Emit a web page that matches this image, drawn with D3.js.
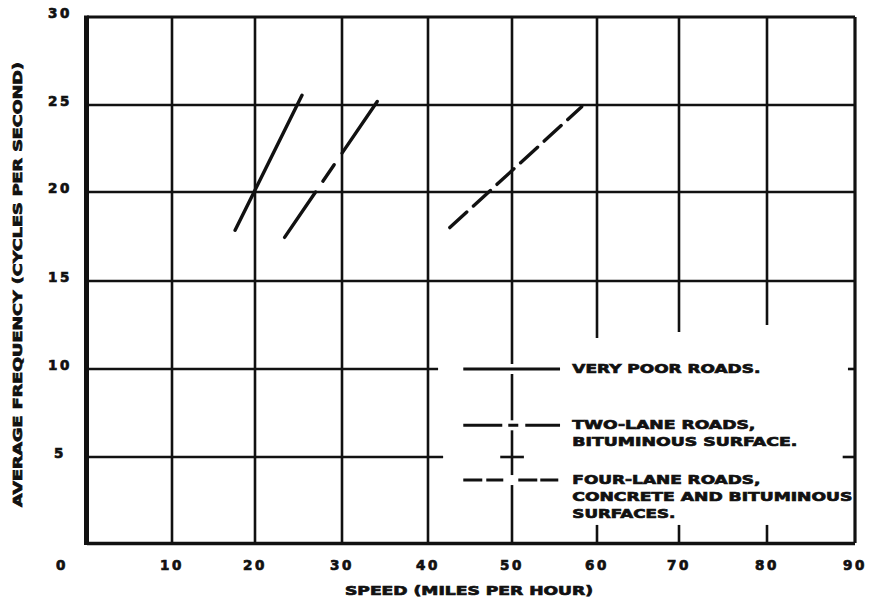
<!DOCTYPE html>
<html><head><meta charset="utf-8">
<script src="https://cdn.jsdelivr.net/npm/d3@7"></script>
<style>
html,body{margin:0;padding:0;background:#fff;}
text{font-family:"DejaVu Sans",sans-serif;font-weight:bold;fill:#111;stroke:#111;stroke-width:0.7px;}
</style></head>
<body><svg id="c" width="870" height="603"></svg>
<script>
// ---- data ----
const xTicks = [0,10,20,30,40,50,60,70,80,90];
const yTicks = [0,5,10,15,20,25,30];
const xTitle = "SPEED (MILES PER HOUR)";
const yTitle = "AVERAGE FREQUENCY (CYCLES PER SECOND)";
const veryPoor = [{speed:17.6,freq:17.85},{speed:25.4,freq:25.55}];
const twoLane  = [{speed:23.4,freq:17.45},{speed:34.1,freq:25.2}];
const fourLane = [{speed:42.6,freq:18.0},{speed:58.2,freq:24.9}];
const legendLabels = [
  ["VERY POOR ROADS."],
  ["TWO-LANE ROADS,","BITUMINOUS SURFACE."],
  ["FOUR-LANE ROADS,","CONCRETE AND BITUMINOUS","SURFACES."]
];
const legendFreq = [10, 6.8, 3.66];

// ---- layout ----
const svg = d3.select("#c");
const ink = "#111";
// hand-drawn grid: piecewise scale
const x = d3.scaleLinear().domain(xTicks).range([87,172,255,342,428,512,597,679,767,855]);
const y = d3.scaleLinear().domain(yTicks).range([543,457,369,281,192,105,17]);

const g = svg.append("g");
function seg(x1,y1,x2,y2,w){
  g.append("line").attr("x1",x1).attr("y1",y1).attr("x2",x2).attr("y2",y2)
   .attr("stroke",ink).attr("stroke-width",w||2.6);
}
// vertical grid
[10,20,30,40].forEach(v=>seg(x(v),y(30),x(v),y(0)));
// 50 with small gaps at legend rows
{
  const ys=legendFreq.map(f=>y(f));
  let top=y(30);
  ys.forEach(yy=>{seg(x(50),top,x(50),yy-5); top=yy+5;});
  seg(x(50),top,x(50),y(0));
}
const vEnds={60:11.76,70:12.1,80:12.5};
[60,70,80].forEach(v=>{seg(x(v),y(30),x(v),y(vEnds[v])); seg(x(v),y(1.05),x(v),y(0));});
// horizontal grid
[15,20,25].forEach(v=>seg(x(0),y(v),x(90),y(v)));
seg(x(0),y(10),x(41.2),y(10)); seg(x(89.2),y(10),x(90),y(10));
seg(x(0),y(5),x(41.8),y(5)); seg(x(48.6),y(5),x(51.4),y(5)); seg(x(88.6),y(5),x(90),y(5));

// border
seg(x(0),y(30),x(90),y(30),3);
seg(x(90),y(30),x(90),y(0),3.2);
seg(x(0),y(0)+0.5,x(90),y(0)+0.5,3.6);
seg(x(0)-0.5,y(30)-1.5,x(0)-0.5,y(0)+2,5);

// data lines
const line = d3.line().x(d=>x(d.speed)).y(d=>y(d.freq));
const series=[
  {data:veryPoor,dash:null},
  {data:twoLane,dash:"55,13,20,14,70"},
  {data:fourLane,dash:"23,9"}
];
series.forEach(s=>{
  g.append("path").attr("d",line(s.data)).attr("fill","none")
   .attr("stroke",ink).attr("stroke-width",3.4).attr("stroke-linecap","round")
   .attr("stroke-dasharray",s.dash);
});

// legend
const legDash=[null,"39,6,10,7,40","19,4,17,15,19,3,18"];
const legWidths=[[188],[183,225],[188,280,103]];
legendFreq.forEach((f,i)=>{
  g.append("line").attr("x1",x(44.2)).attr("x2",x(55.65)).attr("y1",y(f)).attr("y2",y(f))
   .attr("stroke",ink).attr("stroke-width",3).attr("stroke-dasharray",legDash[i]);
  legendLabels[i].forEach((t,j)=>{
    g.append("text").attr("x",x(57.1)).attr("y",y(f)+4+j*17)
     .attr("font-size",12.5).attr("textLength",legWidths[i][j]).attr("lengthAdjust","spacingAndGlyphs")
     .text(t);
  });
});

// tick labels
xTicks.forEach(v=>{
  const px = v===0 ? 62 : x(v);
  svg.append("text").attr("x",px).attr("y",570).attr("text-anchor","middle")
    .attr("font-size",13.5).attr("letter-spacing",2.5).text(v);
});
yTicks.filter(v=>v>0).forEach(v=>{
  svg.append("text").attr("x",60).attr("y",y(v)+1).attr("text-anchor","middle")
    .attr("font-size",13.5).attr("letter-spacing",2.5).text(v);
});
// axis titles
svg.append("text").attr("x",345).attr("y",595).attr("font-size",12)
  .attr("textLength",248).attr("lengthAdjust","spacingAndGlyphs").text(xTitle);
svg.append("text").attr("transform","translate(22,507) rotate(-90)")
  .attr("font-size",12).attr("textLength",445).attr("lengthAdjust","spacingAndGlyphs").text(yTitle);
</script></body></html>
